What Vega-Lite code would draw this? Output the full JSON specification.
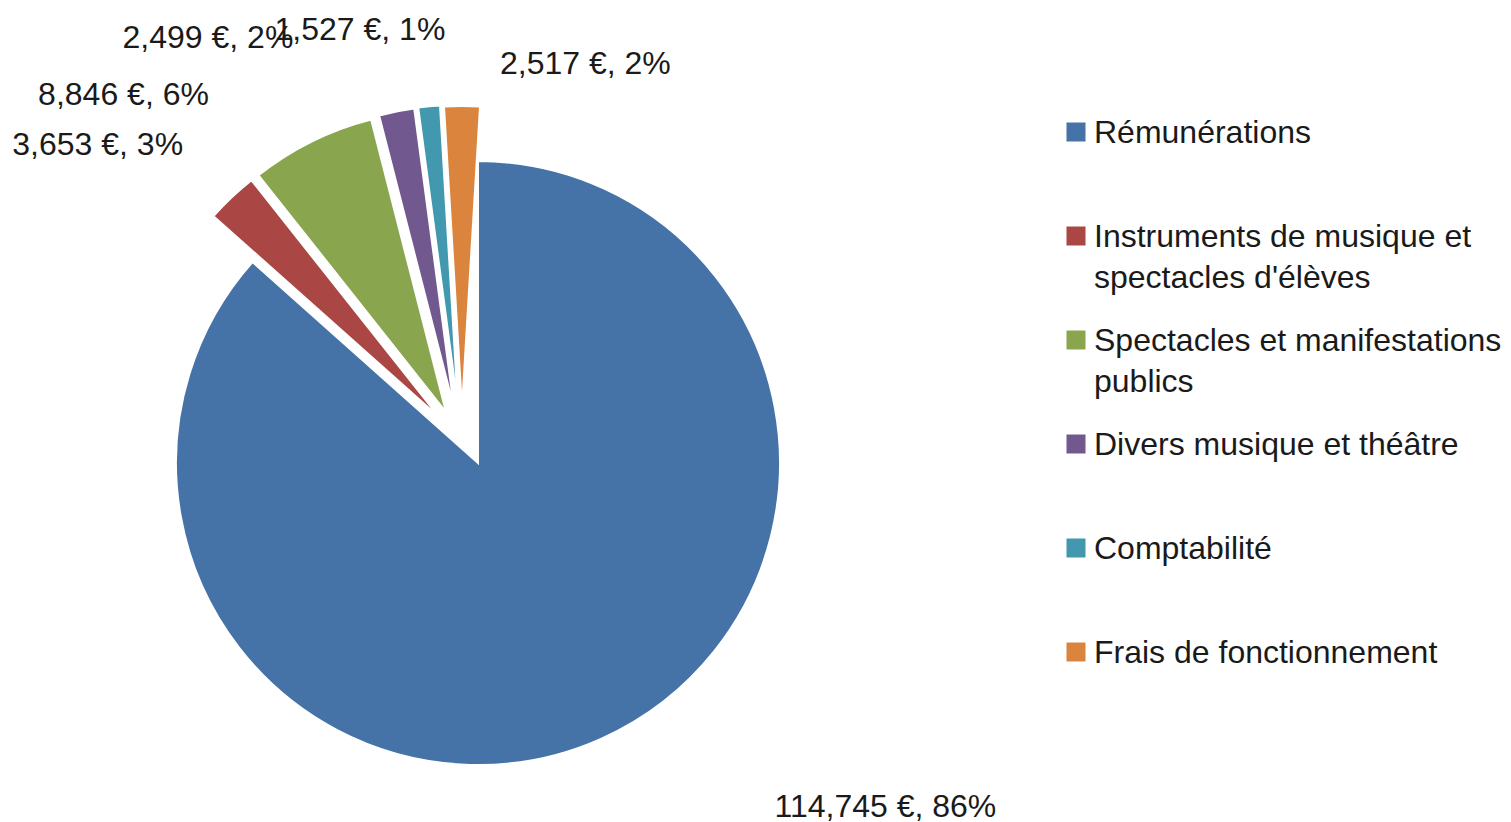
{
  "$schema": "https://vega.github.io/schema/vega-lite/v6.json",
  "width": 956,
  "height": 810,
  "padding": 0,
  "background": "white",
  "config": {"view": {"stroke": null}, "style": {"guide-label": {"lineHeight": 41, "dy": -14}}},
  "data": {"values": [
    {"cat": "Rémunérations", "value": 114745, "pct": 86, "order": 1},
    {"cat": "Instruments de musique et spectacles d'élèves", "value": 3653, "pct": 3, "order": 2},
    {"cat": "Spectacles et manifestations publics", "value": 8846, "pct": 6, "order": 3},
    {"cat": "Divers musique et théâtre", "value": 2499, "pct": 2, "order": 4},
    {"cat": "Comptabilité", "value": 1527, "pct": 1, "order": 5},
    {"cat": "Frais de fonctionnement", "value": 2517, "pct": 2, "order": 6}
  ]},
  "transform": [
    {"stack": "value", "groupby": [], "sort": [{"field": "order", "order": "ascending"}], "as": ["t0", "t1"]},
    {"calculate": "(datum.t0 + datum.t1) / 2", "as": "mid"},
    {"calculate": "format(datum.value, ',') + ' €, ' + datum.pct + '%'", "as": "label"}
  ],
  "layer": [
    {"transform": [{"filter": "datum.order == 1"}], "mark": {"type": "arc", "radius": 302, "stroke": "white", "strokeWidth": 2, "xOffset": 0, "yOffset": 58},
     "encoding": {"theta": {"field": "t0", "type": "quantitative"}, "theta2": {"field": "t1"},
      "color": {
        "field": "cat", "type": "nominal",
        "scale": {
          "domain": ["Rémunérations", "Instruments de musique et spectacles d'élèves", "Spectacles et manifestations publics", "Divers musique et théâtre", "Comptabilité", "Frais de fonctionnement"],
          "range": ["#4572A7", "#AA4643", "#89A54E", "#71588F", "#4198AF", "#DB843D"]
        },
        "legend": {
          "title": null, "orient": "none", "legendX": 1060, "legendY": 116,
          "labelExpr": "datum.label === \"Instruments de musique et spectacles d'élèves\" ? [\"Instruments de musique et\", \"spectacles d'élèves\"] : datum.label === \"Spectacles et manifestations publics\" ? [\"Spectacles et manifestations\", \"publics\"] : datum.label",
          "symbolType": "square", "symbolSize": 361, "symbolStrokeWidth": 0,
          "labelFont": "Liberation Sans", "labelFontSize": 32, "labelColor": "#1a1a1a",
          "labelOffset": 2, "labelBaseline": "top", "labelLimit": 600,
          "gridAlign": "all", "rowPadding": 30, "padding": 0
        }
      }}},
    {"transform": [{"filter": "datum.order == 2"}], "mark": {"type": "arc", "radius": 302, "stroke": "white", "strokeWidth": 2, "xOffset": -39, "yOffset": 12},
     "encoding": {"theta": {"field": "t0", "type": "quantitative"}, "theta2": {"field": "t1"}, "color": {"field": "cat", "type": "nominal", "legend": null}}},
    {"transform": [{"filter": "datum.order == 3"}], "mark": {"type": "arc", "radius": 302, "stroke": "white", "strokeWidth": 2, "xOffset": -32, "yOffset": 7},
     "encoding": {"theta": {"field": "t0", "type": "quantitative"}, "theta2": {"field": "t1"}, "color": {"field": "cat", "type": "nominal", "legend": null}}},
    {"transform": [{"filter": "datum.order == 4"}], "mark": {"type": "arc", "radius": 302, "stroke": "white", "strokeWidth": 2, "xOffset": -24, "yOffset": 3},
     "encoding": {"theta": {"field": "t0", "type": "quantitative"}, "theta2": {"field": "t1"}, "color": {"field": "cat", "type": "nominal", "legend": null}}},
    {"transform": [{"filter": "datum.order == 5"}], "mark": {"type": "arc", "radius": 302, "stroke": "white", "strokeWidth": 2, "xOffset": -20, "yOffset": 2},
     "encoding": {"theta": {"field": "t0", "type": "quantitative"}, "theta2": {"field": "t1"}, "color": {"field": "cat", "type": "nominal", "legend": null}}},
    {"transform": [{"filter": "datum.order == 6"}], "mark": {"type": "arc", "radius": 302, "stroke": "white", "strokeWidth": 2, "xOffset": -16, "yOffset": 3},
     "encoding": {"theta": {"field": "t0", "type": "quantitative"}, "theta2": {"field": "t1"}, "color": {"field": "cat", "type": "nominal", "legend": null}}},
    {"transform": [{"filter": "datum.order == 1"}], "mark": {"type": "text", "radius": 380, "dx": 141, "dy": -3, "yOffset": 58, "align": "left", "baseline": "middle", "font": "Liberation Sans", "fontSize": 32, "fill": "#1a1a1a"},
     "encoding": {"theta": {"field": "mid", "type": "quantitative"}, "text": {"field": "label"}}},
    {"transform": [{"filter": "datum.order == 2"}], "mark": {"type": "text", "radius": 434, "dx": 3, "dy": -2, "yOffset": 58, "align": "right", "baseline": "middle", "font": "Liberation Sans", "fontSize": 32, "fill": "#1a1a1a"},
     "encoding": {"theta": {"field": "mid", "type": "quantitative"}, "text": {"field": "label"}}},
    {"transform": [{"filter": "datum.order == 3"}], "mark": {"type": "text", "radius": 455, "dx": -67, "dy": 40, "yOffset": 58, "align": "right", "baseline": "middle", "font": "Liberation Sans", "fontSize": 32, "fill": "#1a1a1a"},
     "encoding": {"theta": {"field": "mid", "type": "quantitative"}, "text": {"field": "label"}}},
    {"transform": [{"filter": "datum.order == 4"}], "mark": {"type": "text", "radius": 461, "dx": -97, "dy": 28, "yOffset": 58, "align": "right", "baseline": "middle", "font": "Liberation Sans", "fontSize": 32, "fill": "#1a1a1a"},
     "encoding": {"theta": {"field": "mid", "type": "quantitative"}, "text": {"field": "label"}}},
    {"transform": [{"filter": "datum.order == 5"}], "mark": {"type": "text", "radius": 435, "dx": 9, "dy": 0, "yOffset": 58, "align": "right", "baseline": "middle", "font": "Liberation Sans", "fontSize": 32, "fill": "#1a1a1a"},
     "encoding": {"theta": {"field": "mid", "type": "quantitative"}, "text": {"field": "label"}}},
    {"transform": [{"filter": "datum.order == 6"}], "mark": {"type": "text", "radius": 399, "dx": 22, "dy": 0, "yOffset": 58, "align": "left", "baseline": "middle", "font": "Liberation Sans", "fontSize": 32, "fill": "#1a1a1a"},
     "encoding": {"theta": {"field": "mid", "type": "quantitative"}, "text": {"field": "label"}}}
  ]
}
